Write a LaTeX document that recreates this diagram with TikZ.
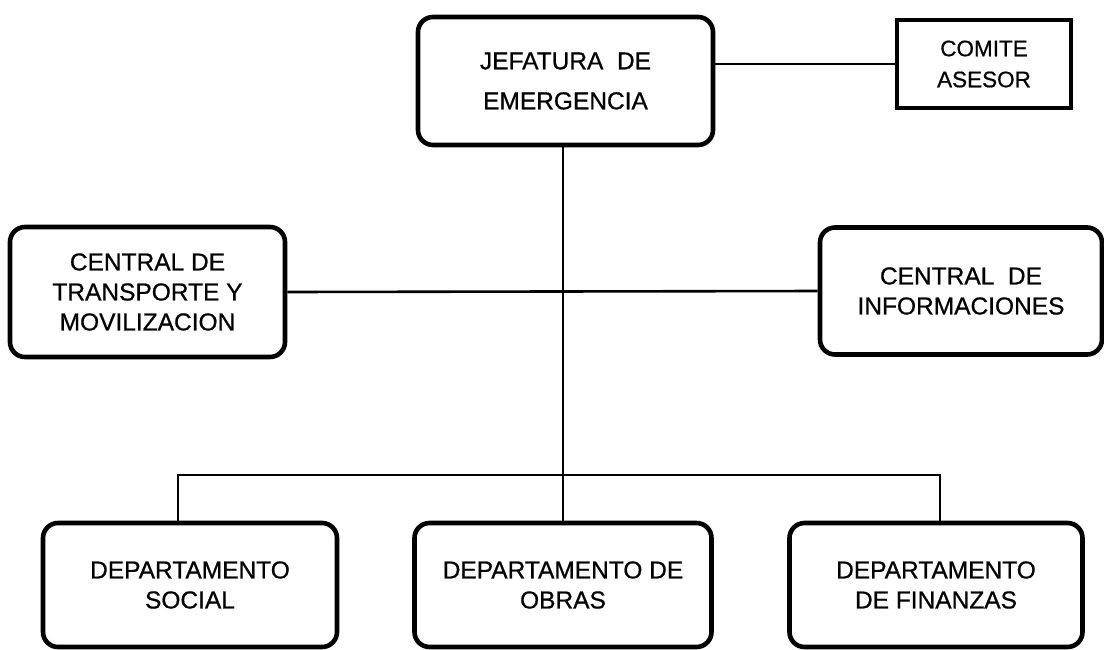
\documentclass[tikz,border=0pt]{standalone}
\usepackage{fontspec}
\setmainfont{Liberation Sans}[FakeBold=0.7,AutoFakeBold=0.7]

\tikzset{every picture/.style={line width=2.6pt}}
\tikzset{
  rbox/.style={draw, rounded corners=15pt, line width=4.6pt, align=center,
    font={\fontsize{24.5}{30}\selectfont}},
  sqbox/.style={draw, line width=3.4pt, align=center,
    font={\fontsize{22.5}{31}\selectfont}},
  link/.style={line width=2.6pt}
}

\begin{document}
\begin{tikzpicture}[x=1pt,y=1pt,yscale=-1,xscale=1]
%set diagram left start at 0, and has height of 649
\useasboundingbox (0,0) rectangle (1104,649);

%Shape: Rounded Rect [id:jefatura]
\node [rbox, minimum width=295pt, minimum height=128pt, font={\fontsize{24.5}{40}\selectfont}] (jef) at (565.5,81) {JEFATURA \ DE\\EMERGENCIA};
%Shape: Rect [id:comite]
\node [sqbox, minimum width=174pt, minimum height=88pt] (comite) at (984,64) {COMITE\\ASESOR};
%Shape: Rounded Rect [id:transporte]
\node [rbox, minimum width=275pt, minimum height=130pt] (transp) at (147.5,292) {CENTRAL DE\\TRANSPORTE Y\\MOVILIZACION};
%Shape: Rounded Rect [id:informaciones]
\node [rbox, minimum width=282pt, minimum height=127pt] (infor) at (961,291) {CENTRAL \ DE\\INFORMACIONES};
%Shape: Rounded Rect [id:social]
\node [rbox, minimum width=294pt, minimum height=124pt] (social) at (190,585) {DEPARTAMENTO\\SOCIAL};
%Shape: Rounded Rect [id:obras]
\node [rbox, minimum width=297pt, minimum height=124pt] (obras) at (563,585) {DEPARTAMENTO DE\\OBRAS};
%Shape: Rounded Rect [id:finanzas]
\node [rbox, minimum width=293pt, minimum height=124pt] (finanzas) at (936,585) {DEPARTAMENTO\\DE FINANZAS};

%Straight Lines [id:trunk]
\draw [link] (jef.south -| obras.north) -- (obras.north);
%Straight Lines [id:asesor]
\draw [link] (comite.west) -- (comite.west -| jef.east);
%Straight Lines [id:centrales]
\draw [link] (transp.east) -- (infor.west);
%Straight Lines [id:departamentos]
\coordinate (bar) at (563,475);
\draw [link] ([xshift=-12pt]social.north) |- (bar) -| ([xshift=4pt]finanzas.north);

\end{tikzpicture}
\end{document}
